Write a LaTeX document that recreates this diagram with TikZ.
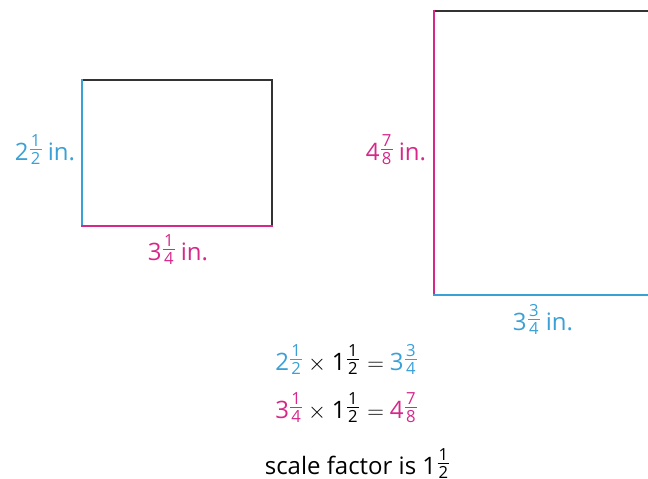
\documentclass[tikz,border=0pt]{standalone}
\usepackage{fontspec}
\setmainfont{Open Sans}
\definecolor{sideblue}{HTML}{3BA0D6}
\definecolor{sidepink}{HTML}{D6288A}
\definecolor{sidegray}{HTML}{333333}
% small stacked fraction, bar raised to digit middle
\newcommand{\fr}[2]{\kern1pt\begingroup\fontsize{12.5}{12.5}\selectfont
	\setbox0\hbox{\kern0.8pt#1\kern0.8pt}\setbox2\hbox{\kern0.8pt#2\kern0.8pt}%
	\dimen0=\wd0 \ifdim\wd2>\dimen0 \dimen0=\wd2 \fi
	\dimen2=\ht2 \advance\dimen2 by 2.3pt
	\raisebox{8pt}{\rlap{\hbox to\dimen0{\hss\raisebox{2.3pt}{\box0}\hss}}%
		\rlap{\rule[-0.3pt]{\dimen0}{0.6pt}}%
		\hbox to\dimen0{\hss\raisebox{-\dimen2}{\box2}\hss}}\endgroup}
\newcommand{\op}[2][4.5pt]{\kern#1$#2$\kern4.5pt}

\begin{document}
\begin{tikzpicture}[x=0.75pt, y=-0.75pt, line width=1.5pt, line cap=rect]
	\tikzset{lbl/.style={font=\fontsize{18}{21}\selectfont, inner sep=0pt}}
	\useasboundingbox (0,0) rectangle (648,478);
	\coordinate (s1) at (82,226); \coordinate (s2) at (272,226);
	\coordinate (s3) at (272,80); \coordinate (s4) at (82,80);
	\coordinate (b1) at (434,295); \coordinate (b2) at (680,295);
	\coordinate (b3) at (680,11); \coordinate (b4) at (434,11);
	\draw[sidegray] (s2) -- (s3) -- (s4);
	\draw[sideblue] (s4) -- (s1);
	\draw[sidepink] (s1) -- (s2);
	\draw[sidegray] (b3) -- (b4);
	\draw[sidepink] (b4) -- (b1);
	\draw[sideblue] (b1) -- (b2);
	\node[lbl, sideblue, anchor=base east] (sh) at (76,160) {2\fr12 in.};
	\node[lbl, sidepink, anchor=base] (sw) at (178,260) {3\fr14 in.};
	\node[lbl, sidepink, anchor=base east] (bh) at (427,160) {4\fr78 in.};
	\node[lbl, sideblue, anchor=base] (bw) at (543,330) {3\fr34 in.};
	\node[lbl, anchor=base] (eq1) at (346,370)
		{{\color{sideblue}2\fr12}\op{\times}1\fr12\op[6.5pt]{=}{\color{sideblue}3\fr34}};
	\node[lbl, anchor=base] (eq2) at (346,418)
		{{\color{sidepink}3\fr14}\op{\times}1\fr12\op[6.5pt]{=}{\color{sidepink}4\fr78}};
	\node[lbl, anchor=base] (sf) at (357,474) {scale factor is 1\fr12};
\end{tikzpicture}
\end{document}
